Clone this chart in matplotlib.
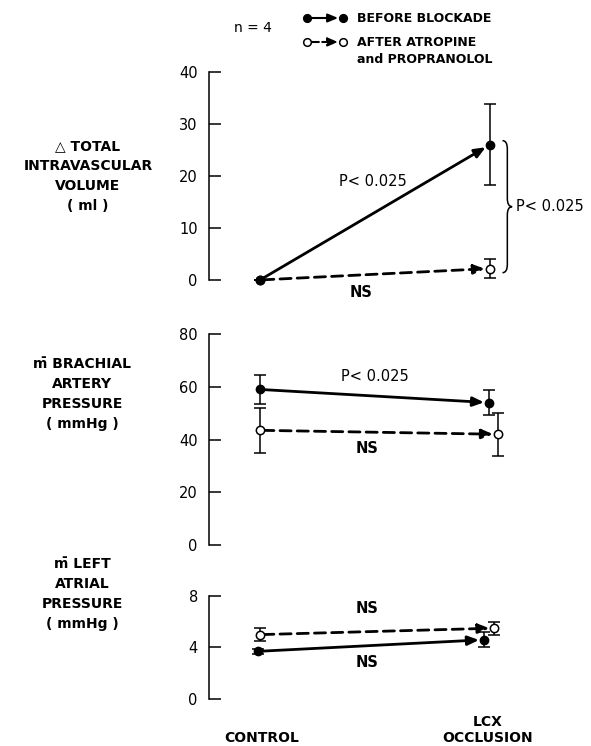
import numpy as np
import matplotlib.pyplot as plt
from matplotlib.path import Path
from matplotlib.patches import PathPatch

# mean +/- SE, control then LCX occlusion
vol_before = [0.0, 26.0]
vol_before_err = [0.0, 7.8]
vol_after = [0.0, 2.2]
vol_after_err = [0.0, 1.9]

bap_before = [59.0, 54.0]
bap_before_err = [5.5, 4.8]
bap_after = [43.5, 42.0]
bap_after_err = [8.5, 8.2]

lap_before = [3.7, 4.6]
lap_before_err = [0.2, 0.6]
lap_after = [5.0, 5.5]
lap_after_err = [0.5, 0.5]

vol_ticks = [0, 10, 20, 30, 40]
bap_ticks = [0, 20, 40, 60, 80]
lap_ticks = [0, 4, 8]

plt.rcParams['font.family'] = 'DejaVu Sans'
fig = plt.figure(figsize=(5.91, 7.46), dpi=100)

LW = 2.0
HEAD = '-|>,head_length=0.6,head_width=0.25'


def panel(rect, ticks, before, berr, after, aerr, xb, xa):
    ax = fig.add_axes(rect)
    ax.set_xlim(-0.222, 1.44)
    ax.set_ylim(ticks[0], ticks[-1])
    for s in ['top', 'right', 'bottom']:
        ax.spines[s].set_visible(False)
    ax.spines['left'].set_linewidth(1.1)
    ax.set_xticks([])
    ax.set_yticks(ticks)
    ax.tick_params(axis='y', direction='in', length=8.5, width=1.1,
                   labelsize=10.5, pad=8)
    # arrows from control to occlusion
    for xs, ys, ls in [(xa, after, (0, (4, 2.2))), (xb, before, '-')]:
        ax.annotate('', xy=(xs[1], ys[1]), xytext=(xs[0], ys[0]),
                    arrowprops=dict(arrowstyle=HEAD, lw=LW, ls=ls, color='k',
                                    fc='k', shrinkA=2, shrinkB=3.5,
                                    mutation_scale=11),
                    annotation_clip=False)
    ax.errorbar(xa, after, yerr=aerr, fmt='o', ms=6, mfc='white', mec='k',
                mew=1.1, ecolor='k', elinewidth=1.1, capsize=4, capthick=1.1,
                clip_on=False, zorder=4)
    ax.errorbar(xb, before, yerr=berr, fmt='o', ms=6, mfc='k', mec='k',
                ecolor='k', elinewidth=1.1, capsize=4, capthick=1.1,
                clip_on=False, zorder=5)
    return ax


ax1 = panel([0.3536, 0.6247, 0.6464, 0.2788], vol_ticks,
            vol_before, vol_before_err, vol_after, vol_after_err,
            [0, 1.0], [0, 1.0])
ax2 = panel([0.3536, 0.2694, 0.6464, 0.2828], bap_ticks,
            bap_before, bap_before_err, bap_after, bap_after_err,
            [0, 0.996], [0, 1.035])
ax3 = panel([0.3536, 0.0630, 0.6464, 0.1381], lap_ticks,
            lap_before, lap_before_err, lap_after, lap_after_err,
            [-0.01, 0.974], [0, 1.02])

# significance labels
ax1.text(0.49, 19.0, 'P< 0.025', fontsize=10.5, ha='center', va='center')
ax1.text(0.44, -2.5, 'NS', fontsize=10.5, weight='bold', ha='center', va='center')
ax2.text(0.50, 64.0, 'P< 0.025', fontsize=10.5, ha='center', va='center')
ax2.text(0.465, 36.5, 'NS', fontsize=10.5, weight='bold', ha='center', va='center')
ax3.text(0.465, 7.0, 'NS', fontsize=10.5, weight='bold', ha='center', va='center')
ax3.text(0.465, 2.8, 'NS', fontsize=10.5, weight='bold', ha='center', va='center')

# curly brace between the two occlusion means
y_top = vol_before[1] + 0.8
y_bot = vol_after[1] - 0.8
y_mid = (y_top + y_bot) / 2
x0, x1, x2 = 1.055, 1.076, 1.097
c = 1.6
verts = [(x0, y_top), (x1, y_top), (x1, y_top - c),
         (x1, y_mid + c),
         (x1, y_mid), (x2, y_mid),
         (x1, y_mid), (x1, y_mid - c),
         (x1, y_bot + c),
         (x1, y_bot), (x0, y_bot)]
codes = [Path.MOVETO, Path.CURVE3, Path.CURVE3,
         Path.LINETO,
         Path.CURVE3, Path.CURVE3,
         Path.CURVE3, Path.CURVE3,
         Path.LINETO,
         Path.CURVE3, Path.CURVE3]
ax1.add_patch(PathPatch(Path(verts, codes), fill=False, lw=1.1, clip_on=False))
ax1.text(1.115, y_mid, 'P< 0.025', fontsize=10.5, ha='left', va='center')

# overlay in pixel coordinates for labels and key
ov = fig.add_axes([0, 0, 1, 1])
ov.set_xlim(0, 591)
ov.set_ylim(746, 0)
ov.axis('off')
ov.patch.set_alpha(0)

lab = dict(fontsize=10, weight='bold', ha='center', va='center', linespacing=1.55)
ov.text(88, 176, '\u25b3 TOTAL\nINTRAVASCULAR\nVOLUME\n( ml )', **lab)
ov.text(82, 394, 'm\u0304 BRACHIAL\nARTERY\nPRESSURE\n( mmHg )', **lab)
ov.text(82, 594, 'm\u0304 LEFT\nATRIAL\nPRESSURE\n( mmHg )', **lab)

ov.text(262, 738, 'CONTROL', **lab)
ov.text(488, 730, 'LCX\nOCCLUSION', **dict(lab, linespacing=1.25))

ov.text(253, 28, 'n = 4', fontsize=10, ha='center', va='center')

# key
for yk, fc, ls in [(18, 'k', '-'), (42, 'white', '--')]:
    ov.annotate('', xy=(343, yk), xytext=(307, yk),
                arrowprops=dict(arrowstyle=HEAD, lw=1.5, ls=ls, color='k',
                                fc='k', shrinkA=3, shrinkB=3.5,
                                mutation_scale=10))
    ov.plot([307, 343], [yk, yk], 'o', ms=5.5, mfc=fc, mec='k', mew=1.1, zorder=5)
ov.text(357, 18, 'BEFORE BLOCKADE', fontsize=9, weight='bold', ha='left', va='center')
ov.text(357, 51, 'AFTER ATROPINE\nand PROPRANOLOL', fontsize=9, weight='bold',
        ha='left', va='center', linespacing=1.45)

fig.savefig('out.png', dpi=100)
